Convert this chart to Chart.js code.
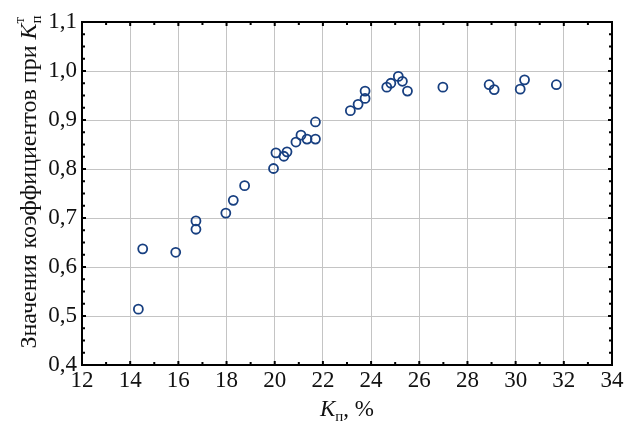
<!DOCTYPE html>
<html>
<head>
<meta charset="utf-8">
<script src="https://cdn.jsdelivr.net/npm/chart.js@4/dist/chart.umd.min.js"></script>
<style>
  html, body { margin: 0; padding: 0; background: #fff; }
  #wrap { width: 631px; height: 424px; }
</style>
</head>
<body>
<div id="wrap"><canvas id="chart" width="631" height="424"></canvas></div>
<script>
// Кп, % (ось X)
const kp = [14.34, 14.52, 15.89, 16.73, 16.73, 17.97, 18.28, 18.75, 19.95,
            20.05, 20.38, 20.51, 20.88, 21.09, 21.34, 21.69, 21.69, 23.14,
            23.46, 23.75, 23.75, 24.65, 24.82, 25.13, 25.30, 25.51, 26.98,
            28.90, 29.11, 30.19, 30.37, 31.69];
// значения коэффициентов при Кп(т)
const kt = [0.514, 0.637, 0.630, 0.694, 0.677, 0.710, 0.736, 0.766, 0.801,
            0.833, 0.826, 0.835, 0.855, 0.869, 0.861, 0.861, 0.896, 0.919,
            0.932, 0.944, 0.959, 0.967, 0.975, 0.989, 0.979, 0.959, 0.967,
            0.972, 0.962, 0.963, 0.982, 0.972];

const xTicks = [12, 14, 16, 18, 20, 22, 24, 26, 28, 30, 32, 34];
const yTicks = [0.4, 0.5, 0.6, 0.7, 0.8, 0.9, 1.0, 1.1];

const FONT = '"Liberation Serif", "DejaVu Serif", serif';

// рамка и внутренние засечки на всех четырёх сторонах
const frame = {
  id: 'frame',
  afterDraw(chart) {
    const { ctx, chartArea: a, scales: { x, y } } = chart;
    ctx.save();
    ctx.strokeStyle = '#000';
    ctx.lineWidth = 2;
    ctx.strokeRect(a.left, a.top, a.right - a.left, a.bottom - a.top);
    ctx.beginPath();
    for (let v = 12; v <= 34; v += 1) {
      const px = x.getPixelForValue(v);
      const len = v % 2 === 0 ? 4 : 3;
      ctx.moveTo(px, a.bottom); ctx.lineTo(px, a.bottom - len);
      ctx.moveTo(px, a.top); ctx.lineTo(px, a.top + len);
    }
    for (let i = 0; i <= 28; i++) {
      const py = y.getPixelForValue(0.4 + i * 0.025);
      const len = i % 4 === 0 ? 4 : 3;
      ctx.moveTo(a.left, py); ctx.lineTo(a.left + len, py);
      ctx.moveTo(a.right, py); ctx.lineTo(a.right - len, py);
    }
    ctx.stroke();

    // подписи осей с индексами
    ctx.fillStyle = '#111';
    ctx.textBaseline = 'alphabetic';
    ctx.textAlign = 'left';

    // ось Y
    const main = 'Значения коэффициентов при ';
    ctx.font = '24px ' + FONT;
    const w1 = ctx.measureText(main).width;
    ctx.font = 'italic 24px ' + FONT;
    const wK = ctx.measureText('K').width;
    ctx.font = '15px ' + FONT;
    const wS = Math.max(ctx.measureText('п').width, ctx.measureText('т').width);
    const total = w1 + wK + wS;
    ctx.translate(36, 182);
    ctx.rotate(-Math.PI / 2);
    let sx = -total / 2;
    ctx.font = '24px ' + FONT;
    ctx.fillText(main, sx, 0);
    sx += w1;
    ctx.font = 'italic 24px ' + FONT;
    ctx.fillText('K', sx, 0);
    sx += wK;
    ctx.font = '15px ' + FONT;
    ctx.fillText('п', sx, 5);
    ctx.fillText('т', sx, -12);
    ctx.setTransform(1, 0, 0, 1, 0, 0);

    // ось X
    ctx.font = 'italic 23px ' + FONT;
    const xK = ctx.measureText('K').width;
    ctx.font = '15px ' + FONT;
    const xS = ctx.measureText('п').width;
    ctx.font = '23px ' + FONT;
    const xR = ctx.measureText(', %').width;
    const cx = (a.left + a.right) / 2;
    let tx = cx - (xK + xS + xR) / 2;
    const ty = 416;
    ctx.font = 'italic 23px ' + FONT;
    ctx.fillText('K', tx, ty);
    tx += xK;
    ctx.font = '15px ' + FONT;
    ctx.fillText('п', tx, ty + 5);
    tx += xS;
    ctx.font = '23px ' + FONT;
    ctx.fillText(', %', tx, ty);
    ctx.restore();
  }
};

new Chart(document.getElementById('chart'), {
  type: 'scatter',
  data: {
    datasets: [{
      data: kp.map((v, i) => ({ x: v, y: kt[i] })),
      pointStyle: 'circle',
      pointRadius: 4.5,
      pointBorderWidth: 1.8,
      pointBorderColor: '#173f80',
      pointBackgroundColor: 'rgba(255,255,255,0)'
    }]
  },
  plugins: [frame],
  options: {
    responsive: false,
    animation: false,
    layout: { padding: { top: 22, right: 19, left: 0, bottom: 0 } },
    plugins: { legend: { display: false }, tooltip: { enabled: false } },
    scales: {
      x: {
        type: 'linear',
        min: 12, max: 34,
        afterBuildTicks: s => { s.ticks = xTicks.map(v => ({ value: v })); },
        afterFit: s => { s.height = 59; },
        grid: { color: '#c4c4c4', lineWidth: 1, drawTicks: false },
        border: { display: false },
        ticks: {
          color: '#111',
          padding: 2,
          font: { family: FONT, size: 23 },
          callback: v => String(v)
        }
      },
      y: {
        type: 'linear',
        min: 0.4, max: 1.1,
        afterBuildTicks: s => { s.ticks = yTicks.map(v => ({ value: v })); },
        afterFit: s => { s.width = 82; },
        grid: { color: '#c4c4c4', lineWidth: 1, drawTicks: false },
        border: { display: false },
        ticks: {
          color: '#111',
          padding: 5,
          font: { family: FONT, size: 23 },
          callback: v => v.toFixed(1).replace('.', ',')
        }
      }
    }
  }
});
</script>
</body>
</html>
